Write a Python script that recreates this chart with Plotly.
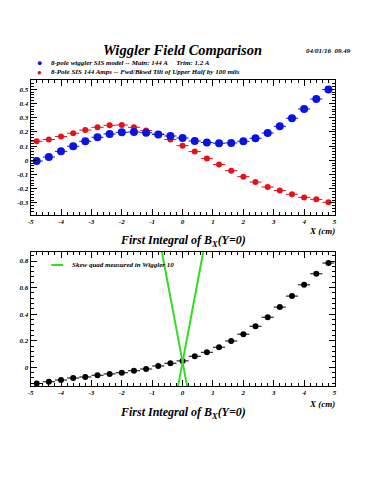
import plotly.graph_objects as go

# ---- data ----
x_pos = [-4.8, -4.4, -4.0, -3.6, -3.2, -2.8, -2.4, -2.0, -1.6, -1.2, -0.8, -0.4, 0.0,
         0.4, 0.8, 1.2, 1.6, 2.0, 2.4, 2.8, 3.2, 3.6, 4.0, 4.4, 4.8]
x_half = [0.2] * len(x_pos)

blue_model = [-0.005, 0.023, 0.063, 0.099, 0.134, 0.162, 0.185, 0.197, 0.199, 0.194, 0.181, 0.171, 0.157,
              0.136, 0.125, 0.120, 0.122, 0.134, 0.155, 0.192, 0.239, 0.296, 0.361, 0.431, 0.498]
red_tilt = [0.134, 0.146, 0.167, 0.190, 0.213, 0.232, 0.246, 0.248, 0.232, 0.209, 0.185, 0.146, 0.103,
            0.061, 0.012, -0.030, -0.073, -0.115, -0.153, -0.188, -0.213, -0.239, -0.261, -0.275, -0.296]
black_int = [-0.122, -0.109, -0.096, -0.081, -0.073, -0.060, -0.050, -0.041, -0.026, -0.013, 0.010, 0.030, 0.048,
             0.083, 0.113, 0.151, 0.198, 0.249, 0.309, 0.377, 0.453, 0.536, 0.621, 0.704, 0.785]

skew_a_x = [-0.75, 0.25]
skew_a_y = [0.954, -0.265]
skew_b_x = [-0.25, 0.75]
skew_b_y = [-0.265, 0.954]

top_yticks = [-0.3, -0.2, -0.1, 0, 0.1, 0.2, 0.3, 0.4, 0.5]
top_ylabels = ["-0.3", "-0.2", "-0.1", "0", "0.1", "0.2", "0.3", "0.4", "0.5"]
bot_yticks = [0, 0.2, 0.4, 0.6, 0.8]
bot_ylabels = ["0", "0.2", "0.4", "0.6", "0.8"]
xticks = [-5, -4, -3, -2, -1, 0, 1, 2, 3, 4, 5]
xlabels = ["-5", "-4", "-3", "-2", "-1", "0", "1", "2", "3", "4", "5"]

title = "Wiggler Field Comparison"
date_txt = "04/01/16  09.49"
leg1 = "8-pole wiggler SIS model -- Main: 144 A     Trim: 1.2 A"
leg2 = "8-Pole SIS 144 Amps -- Fwd/Bkwd Tilt of Upper Half by 100 mils"
leg3 = "Skew quad measured in Wiggler 10"
subtitle = "First Integral of B<sub>X</sub>(Y=0)"

SERIF = "Liberation Serif"
tickfont = dict(family=SERIF, size=7, color="black", weight="bold", style="italic")

fig = go.Figure()

fig.add_trace(go.Scatter(x=x_pos, y=red_tilt, mode="markers", xaxis="x", yaxis="y",
                         marker=dict(color="#e8101a", size=6, symbol="circle"),
                         error_x=dict(type="data", array=x_half, color="#e8101a", thickness=1, width=0)))
fig.add_trace(go.Scatter(x=x_pos, y=blue_model, mode="markers", xaxis="x", yaxis="y",
                         marker=dict(color="#0a14e0", size=8, symbol="circle"),
                         error_x=dict(type="data", array=x_half, color="#0a14e0", thickness=1, width=0)))

fig.add_trace(go.Scatter(x=x_pos, y=black_int, mode="markers", xaxis="x2", yaxis="y2",
                         marker=dict(color="black", size=6, symbol="circle"),
                         error_x=dict(type="data", array=x_half, color="black", thickness=1, width=0)))
fig.add_trace(go.Scatter(x=skew_a_x, y=skew_a_y, mode="lines", xaxis="x2", yaxis="y2",
                         line=dict(color="#33dd22", width=2)))
fig.add_trace(go.Scatter(x=skew_b_x, y=skew_b_y, mode="lines", xaxis="x2", yaxis="y2",
                         line=dict(color="#33dd22", width=2)))

W, H = 375, 500
def px(x):
    return x / W
def py(y):
    return 1 - y / H

xdom = [px(28), px(336)]
axis_common = dict(showline=True, linecolor="black", linewidth=1, mirror="allticks",
                   ticks="inside", ticklen=6, tickcolor="black", tickwidth=1,
                   showgrid=False, zeroline=False, tickfont=tickfont)

fig.update_layout(
    width=W, height=H, margin=dict(l=0, r=0, t=0, b=0),
    paper_bgcolor="white", plot_bgcolor="white", showlegend=False,
    xaxis=dict(domain=xdom, range=[-5, 5], anchor="y", tickvals=xticks, ticktext=xlabels,
               minor=dict(dtick=0.2, ticks="inside", ticklen=3, tickcolor="black"), **axis_common),
    yaxis=dict(domain=[py(215), py(80)], range=[-0.385, 0.565], anchor="x",
               tickvals=top_yticks, ticktext=top_ylabels,
               minor=dict(dtick=0.02, ticks="inside", ticklen=3, tickcolor="black"), **axis_common),
    xaxis2=dict(domain=xdom, range=[-5, 5], anchor="y2", tickvals=xticks, ticktext=xlabels,
                minor=dict(dtick=0.2, ticks="inside", ticklen=3, tickcolor="black"), **axis_common),
    yaxis2=dict(domain=[py(386), py(252)], range=[-0.141, 0.868], anchor="x2",
                tickvals=bot_yticks, ticktext=bot_ylabels,
                minor=dict(dtick=0.04, ticks="inside", ticklen=3, tickcolor="black"), **axis_common),
)

def ann(text, x, y, size, xanchor="center", color="black"):
    fig.add_annotation(text=text, x=px(x), y=py(y), xref="paper", yref="paper",
                       xanchor=xanchor, yanchor="middle", showarrow=False,
                       font=dict(family=SERIF, size=size, color=color, weight="bold", style="italic"))

ann(title, 182, 50, 14.5)
ann(date_txt, 330, 51, 7)
ann("\u25cf", 37, 63, 9, color="#0a14e0")
ann("\u25cf", 37, 72, 8, color="#e8101a")
ann(leg1, 47, 63, 7, xanchor="left")
ann(leg2, 47, 72, 7, xanchor="left")
ann("X (cm)", 323, 231, 9)
ann(subtitle, 182, 241, 12)
ann("X (cm)", 323, 404, 9)
ann(subtitle, 182, 413, 12)
ann(leg3, 68, 265, 7, xanchor="left")

fig.add_shape(type="line", xref="paper", yref="paper", x0=px(49), x1=px(61), y0=py(265), y1=py(265),
              line=dict(color="#33dd22", width=2))

fig.write_html("out.html", config={"displayModeBar": False},
               post_script="document.body.style.margin='0';document.body.style.overflow='hidden';")
